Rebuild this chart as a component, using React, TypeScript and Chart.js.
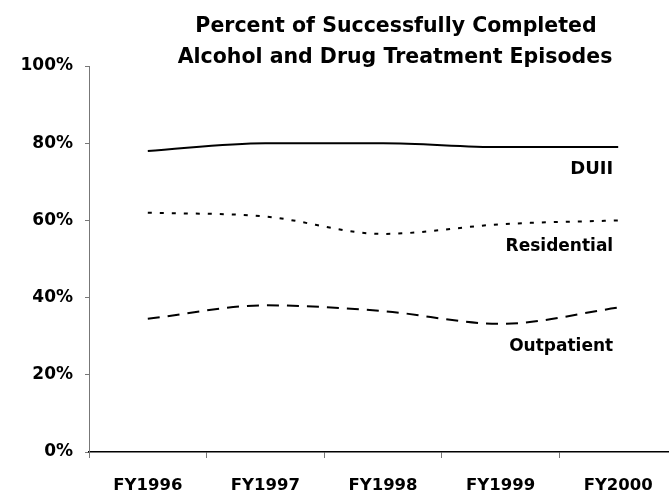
import React, { useEffect, useRef } from "react";
import { Chart, registerables } from "chart.js";

Chart.register(...registerables);

const categories = ["FY1996", "FY1997", "FY1998", "FY1999", "FY2000"];
const duii = [78, 80, 80, 79, 79];
const residential = [62, 61, 56.5, 59, 60];
const outpatient = [34.5, 38, 36.5, 33.2, 37.4];
const seriesNames = ["DUII", "Residential", "Outpatient"];
const seriesLabelValues = [73.3, 53.1, 27.2];
const titleLines = ["Percent of Successfully Completed", "Alcohol and Drug Treatment Episodes"];

const FONT = "'DejaVu Sans'";

const annotPlugin = {
  id: "annot",
  afterDraw(chart: any) {
    const { ctx, scales } = chart;
    ctx.save();
    ctx.fillStyle = "#000";
    ctx.textAlign = "center";
    ctx.textBaseline = "alphabetic";
    ctx.font = `bold 20.5px ${FONT}`;
    ctx.fillText(titleLines[0], 396, 32);
    ctx.fillText(titleLines[1], 395, 63);
    ctx.textAlign = "right";
    ctx.textBaseline = "middle";
    const xr = scales.x.getPixelForValue(categories.length - 1) - 5;
    seriesNames.forEach((n, i) => {
      ctx.font = `bold ${i === 0 ? 18 : 17}px ${FONT}`;
      ctx.fillText(n, xr, scales.y.getPixelForValue(seriesLabelValues[i]));
    });
    ctx.restore();
  },
};

export default function App() {
  const ref = useRef<HTMLCanvasElement | null>(null);
  useEffect(() => {
    if (!ref.current) return;
    const common = { borderColor: "#000", borderWidth: 2, pointRadius: 0, cubicInterpolationMode: "monotone" as const };
    const chart = new Chart(ref.current, {
      type: "line",
      data: {
        labels: categories,
        datasets: [
          { label: seriesNames[0], data: duii, ...common },
          { label: seriesNames[1], data: residential, borderDash: [4, 8], ...common },
          { label: seriesNames[2], data: outpatient, borderDash: [12, 8], ...common },
        ],
      },
      options: {
        responsive: false,
        animation: false,
        layout: { padding: { top: 66, right: 13, left: 0, bottom: 0 } },
        plugins: { legend: { display: false }, title: { display: false }, tooltip: { enabled: false } },
        scales: {
          x: {
            offset: true,
            grid: { offset: true, drawOnChartArea: false, drawTicks: true, tickLength: 6, color: "#777" },
            border: { display: true, color: "#000", width: 1.5 },
            ticks: { color: "#000", font: { family: FONT, size: 16.5, weight: "bold" }, padding: 18, maxRotation: 0 },
            afterFit: (s: any) => { s.height = 44; },
          },
          y: {
            min: 0,
            max: 100,
            grid: { drawOnChartArea: false, drawTicks: true, tickLength: 4, color: "#777" },
            border: { display: true, color: "#777", width: 1 },
            ticks: {
              stepSize: 20,
              color: "#000",
              padding: 12,
              font: { family: FONT, size: 17, weight: "bold" },
              callback: (v: any) => `${v}%`,
            },
            afterFit: (s: any) => { s.width = 89; },
          },
        },
      },
      plugins: [annotPlugin],
    });
    return () => chart.destroy();
  }, []);
  return (
    <div style={{ position: "absolute", left: 0, top: 0, width: 669, height: 496, overflow: "hidden", background: "#fff" }}>
      <canvas ref={ref} width={690} height={496} />
    </div>
  );
}
